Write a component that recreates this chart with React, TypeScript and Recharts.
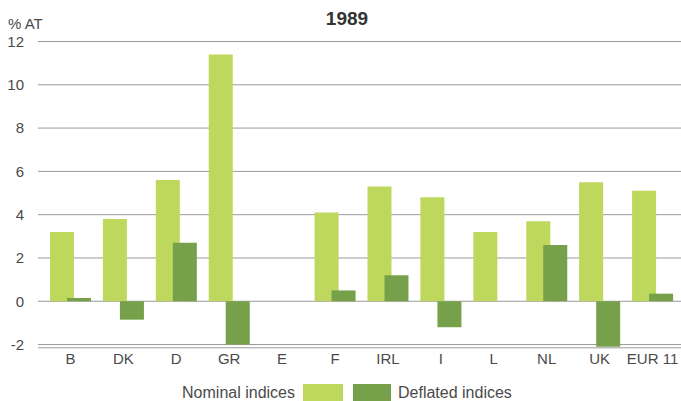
import React from 'react';
import { BarChart, Bar, XAxis, YAxis, CartesianGrid } from 'recharts';

const categories = ['B', 'DK', 'D', 'GR', 'E', 'F', 'IRL', 'I', 'L', 'NL', 'UK', 'EUR 11'];
const nominal = [3.2, 3.8, 5.6, 11.4, null, 4.1, 5.3, 4.8, 3.2, 3.7, 5.5, 5.1];
const deflated = [0.15, -0.85, 2.7, -2.0, null, 0.5, 1.2, -1.2, null, 2.6, -2.1, 0.35];
const yTicks = [-2, 0, 2, 4, 6, 8, 10, 12];

const data = categories.map((cat, i) => ({ cat, nominal: nominal[i], deflated: deflated[i] }));

const FONT = '"Liberation Sans", Arial, Helvetica, sans-serif';
const TEXT = '#4a4a4a';
const NOMINAL_COLOR = '#bdd85c';
const DEFLATED_COLOR = '#76a04a';

export default function App() {
  return (
    <div style={{ position: 'absolute', left: 0, top: 0, width: 681, height: 401, background: '#fff', fontFamily: FONT, overflow: 'hidden' }}>
      <BarChart
        width={681}
        height={401}
        data={data}
        margin={{ top: 41.5, right: 0, left: 0, bottom: 0 }}
        barSize={24}
        barGap={-7}
      >
        <CartesianGrid vertical={false} stroke="#9a9a9a" strokeWidth={1} />
        <XAxis
          dataKey="cat"
          interval={0}
          tickLine={false}
          axisLine={false}
          tickSize={0}
          tickMargin={6}
          height={53.2}
          padding={{ left: 6, right: 2 }}
          tick={{ fontSize: 15, fill: TEXT, fontFamily: FONT }}
        />
        <YAxis
          width={38}
          domain={[-2.15, 12]}
          ticks={yTicks}
          interval={0}
          tickLine={false}
          axisLine={false}
          tickSize={0}
          tickMargin={14}
          tick={{ fontSize: 15, fill: TEXT, fontFamily: FONT }}
        />
        <Bar dataKey="nominal" fill={NOMINAL_COLOR} isAnimationActive={false} />
        <Bar dataKey="deflated" fill={DEFLATED_COLOR} isAnimationActive={false} />
      </BarChart>
      <div style={{ position: 'absolute', left: 8, top: 15, fontSize: 15, color: TEXT, fontFamily: FONT }}>% AT</div>
      <div style={{ position: 'absolute', left: 297, width: 100, textAlign: 'center', top: 8, fontSize: 19, fontWeight: 'bold', color: '#333', fontFamily: FONT }}>1989</div>
      <div style={{ position: 'absolute', left: 100, width: 195, textAlign: 'right', top: 384, fontSize: 16, color: TEXT, fontFamily: FONT, whiteSpace: 'nowrap' }}>Nominal indices</div>
      <div style={{ position: 'absolute', left: 303, top: 384, width: 40, height: 20, background: NOMINAL_COLOR }} />
      <div style={{ position: 'absolute', left: 353, top: 384, width: 38, height: 20, background: DEFLATED_COLOR }} />
      <div style={{ position: 'absolute', left: 398, top: 384, fontSize: 16, color: TEXT, fontFamily: FONT, whiteSpace: 'nowrap' }}>Deflated indices</div>
    </div>
  );
}
